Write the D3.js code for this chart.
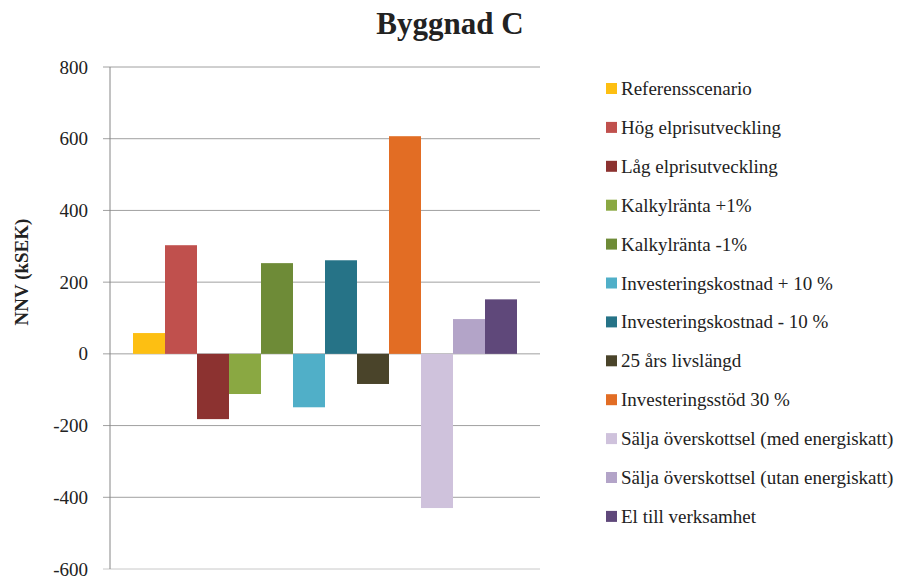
<!DOCTYPE html>
<html>
<head>
<meta charset="utf-8">
<script src="https://cdn.jsdelivr.net/npm/d3@7"></script>
<style>
  body { margin: 0; background: #fff; }
  text { font-family: "Liberation Serif", "DejaVu Serif", serif; fill: #222; }
</style>
</head>
<body>
<div id="chart"></div>
<script>
// scenarier och NNV-värden (kSEK)
const scenarios = [
    'Referensscenario',
    'Hög elprisutveckling',
    'Låg elprisutveckling',
    'Kalkylränta +1%',
    'Kalkylränta -1%',
    'Investeringskostnad + 10 %',
    'Investeringskostnad - 10 %',
    '25 års livslängd',
    'Investeringsstöd 30 %',
    'Sälja överskottsel (med energiskatt)',
    'Sälja överskottsel (utan energiskatt)',
    'El till verksamhet'
];
const values = [58, 303, -182, -112, 253, -149, 261, -84, 607, -430, 97, 152];
const colors = ['#FDBF12', '#C0504D', '#8C3230', '#8AA842', '#6E8B37', '#50AFC8',
    '#267387', '#4A442A', '#E26D24', '#CFC2DC', '#B3A4C8', '#5F487A'];
const yTicks = [-600, -400, -200, 0, 200, 400, 600, 800];

const width = 902, height = 578;
const margin = { top: 67, left: 110, right: 362, bottom: 9 };
const plotW = width - margin.left - margin.right;
const plotH = height - margin.top - margin.bottom;

let svg = d3.select('#chart').append('svg')
    .attr('width', width)
    .attr('height', height);

let chart = svg.append('g')
    .attr('transform', 'translate(' + margin.left + ',' + margin.top + ')');

let yScale = d3.scaleLinear().domain([-600, 800]).range([plotH, 0]);
// en enda kategori, serierna sida vid sida
let xScale = d3.scaleBand().domain(scenarios).range([23, plotW - 23]);

// stödlinjer
chart.selectAll('.grid').data(yTicks).enter().append('line').classed('grid', true)
    .attr('x1', -7).attr('x2', plotW)
    .attr('y1', function (d) { return yScale(d); })
    .attr('y2', function (d) { return yScale(d); })
    .attr('stroke', function (d) { return d === -600 ? '#c8c8c8' : '#a0a0a0'; })
    .attr('stroke-width', 1);

// y-axeln
let yAxis = d3.axisLeft(yScale).tickValues(yTicks).tickSize(0).tickPadding(22)
    .tickFormat(function (d) { return String(d); });
let yg = chart.append('g').call(yAxis);
yg.select('.domain').remove();
yg.selectAll('text')
    .style('font-family', '"Liberation Serif", serif')
    .style('font-size', '19px')
    .attr('fill', '#222');

// staplar
chart.selectAll('.bar').data(values).enter().append('rect').classed('bar', true)
    .attr('x', function (d, i) { return xScale(scenarios[i]); })
    .attr('width', xScale.bandwidth())
    .attr('y', function (d) { return yScale(Math.max(0, d)); })
    .attr('height', function (d) { return Math.abs(yScale(d) - yScale(0)); })
    .attr('fill', function (d, i) { return colors[i]; });

chart.append('line')
    .attr('x1', 0).attr('x2', 0)
    .attr('y1', 0).attr('y2', plotH)
    .attr('stroke', '#868686');

// titel
svg.append('text')
    .attr('x', 450).attr('y', 34)
    .attr('text-anchor', 'middle')
    .style('font-size', '31px')
    .style('font-weight', 'bold')
    .text('Byggnad C');

// y-axelns titel
svg.append('text')
    .attr('transform', 'translate(28,272) rotate(-90)')
    .attr('text-anchor', 'middle')
    .style('font-size', '19px')
    .style('font-weight', 'bold')
    .text('NNV (kSEK)');

// förklaring
let legend = svg.append('g').attr('transform', 'translate(606,83)');
let items = legend.selectAll('.item').data(scenarios).enter().append('g').classed('item', true)
    .attr('transform', function (d, i) { return 'translate(0,' + (i * 38.9) + ')'; });
items.append('rect')
    .attr('width', 11).attr('height', 11)
    .attr('fill', function (d, i) { return colors[i]; });
items.append('text')
    .attr('x', 15).attr('y', 12)
    .style('font-size', '19px')
    .text(function (d) { return d; });
</script>
</body>
</html>
